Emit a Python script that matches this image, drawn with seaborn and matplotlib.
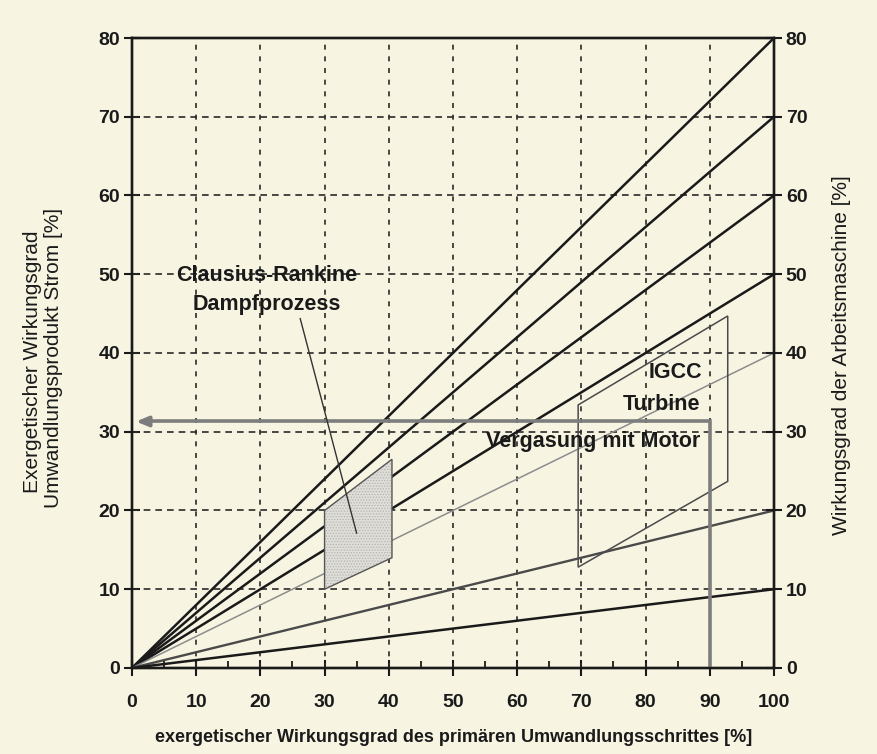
import numpy as np
import pandas as pd
import matplotlib
matplotlib.use("Agg")
import matplotlib.pyplot as plt
import seaborn as sns
from matplotlib.patches import Polygon

# Efficiency of the driven machine (right axis) -> end value of each ray at x = 100 %
machine_eff = [80, 70, 60, 50, 40, 20, 10]
line_colors = ["#1a1a1a", "#1a1a1a", "#1a1a1a", "#1a1a1a", "#8c8c8c", "#4a4a4a", "#1a1a1a"]
line_widths = [1.8, 1.8, 1.8, 1.8, 1.1, 1.7, 1.8]

x_ticks = list(range(0, 101, 10))
y_ticks = list(range(0, 81, 10))

# Steam process region (primary efficiency 30-40 %)
steam_x = [30, 30, 40.5, 40.5]
steam_y = [10, 20, 26.5, 14]

# IGCC turbine region
igcc_x = [69.5, 69.5, 92.8, 92.8]
igcc_y = [12.8, 33.4, 44.7, 23.7]

# Gasification with engine: primary 90 %, product 31.3 %
motor_x = 90
motor_y = 31.3

bg = "#f7f5e2"
ink = "#1a1a1a"
sns.set_theme(style="ticks")
plt.rcParams["font.family"] = ["Liberation Sans", "DejaVu Sans"]
plt.rcParams["hatch.linewidth"] = 0.6

fig = plt.figure(figsize=(8.78, 7.54), dpi=100, facecolor=bg)
ax = fig.add_axes([0.1503, 0.1141, 0.7312, 0.8355])
ax.set_facecolor(bg)

# Dashed grid
for v in x_ticks[1:-1]:
    ax.axvline(v, color="#2a2a2a", lw=1.2, ls=(0, (3, 4)), zorder=1)
for v in y_ticks[1:-1]:
    ax.axhline(v, color="#2a2a2a", lw=1.2, ls=(0, (4, 3)), zorder=1)

# Rays from the origin
rows = []
for v in machine_eff:
    rows.append({"x": 0, "y": 0, "eff": str(v)})
    rows.append({"x": 100, "y": v, "eff": str(v)})
df = pd.DataFrame(rows)
for i, v in enumerate(machine_eff):
    sns.lineplot(data=df[df["eff"] == str(v)], x="x", y="y", color=line_colors[i],
                 lw=line_widths[i], ax=ax, zorder=3, legend=False)

# Shaded steam process region (covers the rays)
ax.add_patch(Polygon(list(zip(steam_x, steam_y)), closed=True, facecolor="#e0ded8",
                     edgecolor="#b5b3ad", hatch="......", lw=0, zorder=4))
ax.add_patch(Polygon(list(zip(steam_x, steam_y)), closed=True, fill=False,
                     edgecolor="#555555", lw=1.0, zorder=5))

# IGCC region outline
ax.add_patch(Polygon(list(zip(igcc_x, igcc_y)), closed=True, fill=False,
                     edgecolor="#4a4a4a", lw=1.1, zorder=5))

# Gasification with engine: up from the x axis, then across to the left axis
ax.plot([motor_x, motor_x, 2], [0, motor_y, motor_y], color="#7d7d7d", lw=2.6,
        solid_joinstyle="miter", zorder=6)
ax.annotate("", xy=(0.2, motor_y), xytext=(3, motor_y),
            arrowprops=dict(arrowstyle="-|>,head_length=0.6,head_width=0.25",
                            color="#7d7d7d", lw=2.6), zorder=6)

# Labels inside the plot
lab = dict(fontsize=15.5, fontweight="bold", color=ink, zorder=7)
ax.text(21.0, 49.9, "Clausius-Rankine", ha="center", va="center", **lab)
ax.text(21.0, 46.1, "Dampfprozess", ha="center", va="center", **lab)
ax.plot([26.2, 35.0], [44.4, 17.1], color="#333333", lw=1.0, zorder=7)

ax.text(88.8, 37.5, "IGCC", ha="right", va="center", **lab)
ax.text(88.5, 33.4, "Turbine", ha="right", va="center", **lab)
ax.text(88.5, 28.7, "Vergasung mit Motor", ha="right", va="center", **lab)

# Axes, ticks and spines
ax.set_xlim(0, 100)
ax.set_ylim(0, 80)
ax.set_xticks(x_ticks)
ax.set_xticks(list(range(5, 100, 10)), minor=True)
ax.set_yticks(y_ticks)
ax.set_xticklabels([str(t) for t in x_ticks], fontsize=14, fontweight="bold")
ax.set_yticklabels([str(t) for t in y_ticks], fontsize=14, fontweight="bold")
ax.tick_params(axis="x", which="major", direction="inout", length=11, width=1.5,
               colors=ink, pad=13)
ax.tick_params(axis="y", which="major", direction="inout", length=11, width=1.5,
               colors=ink, pad=3)
ax.tick_params(axis="x", which="minor", direction="in", length=5, width=1.3,
               colors=ink)
ax.set_xlabel("")
ax.set_ylabel("")
for s in ax.spines.values():
    s.set_visible(True)
    s.set_linewidth(1.7)
    s.set_color(ink)

ax2 = ax.twinx()
ax2.set_ylim(0, 80)
ax2.set_yticks(y_ticks)
ax2.set_yticklabels([str(t) for t in y_ticks], fontsize=14, fontweight="bold")
ax2.tick_params(axis="y", direction="inout", length=11, width=1.5, colors=ink, pad=3)
for s in ax2.spines.values():
    s.set_linewidth(1.7)
    s.set_color(ink)

# Axis titles
fig.text(454 / 878, 1 - 738 / 754,
         "exergetischer Wirkungsgrad des primären Umwandlungsschrittes [%]",
         ha="center", va="center", fontsize=13, fontweight="bold", color=ink)
fig.text(33 / 878, 1 - 362 / 754, "Exergetischer Wirkungsgrad",
         rotation=90, ha="center", va="center", fontsize=15, color=ink)
fig.text(54 / 878, 1 - 358 / 754, "Umwandlungsprodukt Strom [%]",
         rotation=90, ha="center", va="center", fontsize=15, color=ink)
fig.text(842 / 878, 1 - 355 / 754, "Wirkungsgrad der Arbeitsmaschine [%]",
         rotation=90, ha="center", va="center", fontsize=15, color=ink)

fig.savefig("out.png", dpi=100, facecolor=bg)
